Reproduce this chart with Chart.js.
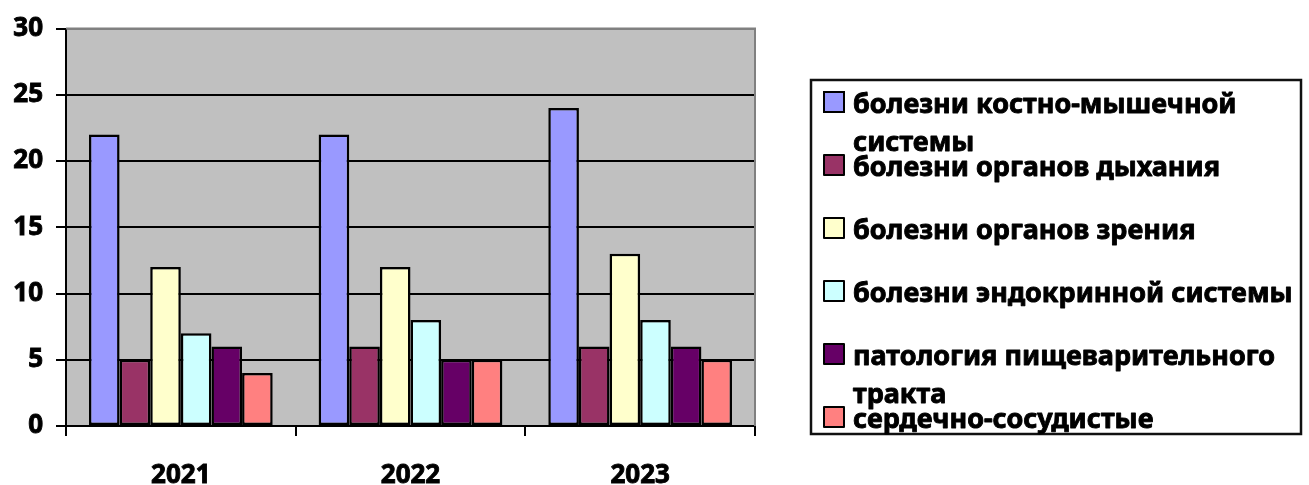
<!DOCTYPE html>
<html><head><meta charset="utf-8">
<script src="https://cdn.jsdelivr.net/npm/chart.js@4"></script>
<style>html,body{margin:0;padding:0;background:#fff;}#wrap{width:1309px;height:485px;}</style>
</head><body><div id="wrap"><canvas id="c" width="1309" height="485"></canvas></div>
<script>
const categories = ['2021', '2022', '2023'];
const seriesNames = [
  'болезни костно-мышечной системы',
  'болезни органов дыхания',
  'болезни органов зрения',
  'болезни эндокринной системы',
  'патология пищеварительного тракта',
  'сердечно-сосудистые'
];
const seriesValues = [
  [22, 22, 24],
  [5, 6, 6],
  [12, 12, 13],
  [7, 8, 8],
  [6, 5, 6],
  [4, 5, 5]
];
const seriesColors = ['#9999FF', '#993366', '#FFFFCC', '#CCFFFF', '#660066', '#FF8080'];
const yMin = 0, yMax = 30, yStep = 5;

const FONT = '"Noto Sans", "DejaVu Sans", sans-serif';

const plotBg = {
  id: 'plotBg',
  beforeDraw(chart) {
    const {ctx, chartArea: a} = chart;
    ctx.save();
    ctx.fillStyle = '#C0C0C0';
    ctx.fillRect(a.left, a.top, a.right - a.left, a.bottom - a.top);
    ctx.restore();
  },
  afterDatasetsDraw(chart) {
    const {ctx, chartArea: a} = chart;
    ctx.save();
    ctx.strokeStyle = '#808080';
    ctx.lineWidth = 2;
    ctx.beginPath();
    ctx.moveTo(a.left, a.top);
    ctx.lineTo(a.right, a.top);
    ctx.lineTo(a.right, a.bottom);
    ctx.stroke();
    ctx.restore();
  }
};

const boxLegend = {
  id: 'boxLegend',
  afterDraw(chart) {
    const ctx = chart.ctx;
    const bx = 811, by = 80, bw = 490, bh = 354;
    ctx.save();
    ctx.fillStyle = '#fff';
    ctx.fillRect(bx, by, bw, bh);
    ctx.strokeStyle = '#111';
    ctx.lineWidth = 2.5;
    ctx.strokeRect(bx, by, bw, bh);
    ctx.font = 'bold 27px ' + FONT;
    ctx.textBaseline = 'alphabetic';
    const textX = 853, maxW = 440;
    chart.data.datasets.forEach((ds, i) => {
      const base = 113 + 63 * i;
      ctx.fillStyle = ds.backgroundColor;
      ctx.fillRect(824, base - 21, 20, 20);
      ctx.strokeStyle = '#000';
      ctx.lineWidth = 2;
      ctx.strokeRect(824, base - 21, 20, 20);
      const words = ds.label.split(' ');
      const lines = [];
      let cur = '';
      words.forEach(w => {
        const t = cur ? cur + ' ' + w : w;
        if (ctx.measureText(t).width > maxW && cur) { lines.push(cur); cur = w; }
        else cur = t;
      });
      lines.push(cur);
      ctx.fillStyle = '#000';
      ctx.strokeStyle = '#000';
      ctx.lineWidth = 0.9;
      ctx.lineJoin = 'round';
      lines.forEach((ln, k) => {
        ctx.fillText(ln, textX, base + 38 * k);
        ctx.strokeText(ln, textX, base + 38 * k);
      });
    });
    ctx.restore();
  }
};

new Chart(document.getElementById('c'), {
  type: 'bar',
  data: {
    labels: categories,
    datasets: seriesNames.map((n, i) => ({
      label: n,
      data: seriesValues[i],
      backgroundColor: seriesColors[i],
      borderColor: '#000',
      borderWidth: 2.5,
      borderSkipped: false,
      categoryPercentage: 0.8,
      barPercentage: 1.0
    }))
  },
  options: {
    responsive: false,
    devicePixelRatio: 1,
    animation: false,
    layout: {padding: {top: 26, right: 554, left: 0, bottom: 0}},
    plugins: {legend: {display: false}, tooltip: {enabled: false}},
    scales: {
      x: {
        afterFit(s) { s.height = 59; },
        grid: {display: true, offset: true, drawOnChartArea: false, drawTicks: true, tickLength: 10, tickColor: '#000', lineWidth: 2, color: '#000'},
        border: {display: true, color: '#000', width: 2},
        ticks: {color: '#000', padding: 24, textStrokeColor: '#000', textStrokeWidth: 0.9, font: {family: FONT, weight: 'bold', size: 26}}
      },
      y: {
        min: yMin, max: yMax,
        afterFit(s) { s.width = 66; },
        grid: {color: ctx => (ctx.tick && ctx.tick.value === yMax) ? '#808080' : '#000', lineWidth: 2, tickLength: 10, tickColor: '#000'},
        border: {display: true, color: '#000', width: 2},
        ticks: {stepSize: yStep, color: '#000', padding: 13, textStrokeColor: '#000', textStrokeWidth: 0.9, font: {family: FONT, weight: 'bold', size: 26}}
      }
    }
  },
  plugins: [plotBg, boxLegend]
});
</script>
</body></html>
